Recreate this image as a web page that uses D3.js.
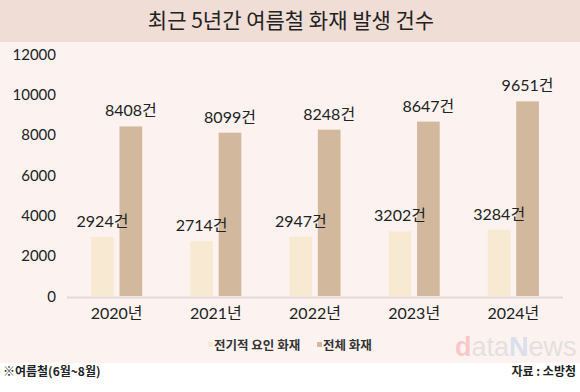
<!DOCTYPE html>
<html><head><meta charset="utf-8">
<script src="https://cdn.jsdelivr.net/npm/d3@7"></script>
<style>body{margin:0;background:#fff}svg{display:block}</style>
</head><body>
<svg id="c" width="580" height="392"></svg>
<script>
const years = ["2020년","2021년","2022년","2023년","2024년"];
const seriesNames = ["전기적 요인 화재","전체 화재"];
const electrical = [2924,2714,2947,3202,3284];
const total = [8408,8099,8248,8647,9651];
const yTicks = [0,2000,4000,6000,8000,10000,12000];
const colors = ["#f8e9d2","#d2b99e"];

const svg = d3.select("#c");
const kfont = "'Noto Sans CJK KR','Noto Sans',sans-serif";
const nfont = "Lato,'Noto Sans CJK KR',sans-serif";

svg.append("rect").attr("x",0).attr("y",0).attr("width",580).attr("height",42).attr("fill","#efddd6");
svg.append("rect").attr("x",0).attr("y",42).attr("width",580).attr("height",321).attr("fill","#fcf3f0");
svg.append("text").attr("x",291).attr("y",28).attr("text-anchor","middle")
  .attr("font-family",kfont).attr("font-size",21).attr("fill","#222").text("최근 5년간 여름철 화재 발생 건수");

// watermark (single text)
const wm = svg.append("text").attr("x",455).attr("y",356)
  .attr("font-family","'Liberation Sans',Arial,sans-serif").attr("font-size",27);
wm.append("tspan").attr("fill","#f6c9c9").attr("font-weight","bold").text("d");
wm.append("tspan").attr("fill","#e4e0df").text("ata");
wm.append("tspan").attr("fill","#d9dfeb").attr("font-weight","bold").text("N");
wm.append("tspan").attr("fill","#e4e0df").text("ews");

const y = d3.scaleLinear().domain([0,12000]).range([296,54]);
const x0 = d3.scaleBand().domain(years).range([67,563]).paddingInner(0.485).paddingOuter(0.243);
const x1 = d3.scaleBand().domain(seriesNames).range([0,x0.bandwidth()]).paddingInner(0.2);

// y axis
const ya = svg.append("g").attr("transform","translate(56,0)")
  .call(d3.axisLeft(y).tickValues(yTicks).tickSize(0).tickPadding(0).tickFormat(d3.format("d")));
ya.select(".domain").remove();
ya.selectAll("text").attr("font-family",nfont).attr("font-size",15).attr("fill","#222").attr("dy","0.35em");

// baseline
svg.append("line").attr("x1",67).attr("x2",563).attr("y1",297.5).attr("y2",297.5)
  .attr("stroke","#e0dbd8").attr("stroke-width",2);

const data = years.map((yr,i)=>({year:yr, vals:[electrical[i],total[i]]}));
const g = svg.selectAll("g.grp").data(data).join("g").attr("class","grp")
  .attr("transform",d=>`translate(${x0(d.year)},0)`);
g.selectAll("rect").data(d=>d.vals.map((v,j)=>({k:seriesNames[j],v,j}))).join("rect")
  .attr("x",d=>x1(d.k)).attr("width",x1.bandwidth())
  .attr("y",d=>y(d.v)).attr("height",d=>296-y(d.v)).attr("fill",d=>colors[d.j]);
g.selectAll("text").data(d=>d.vals.map((v,j)=>({k:seriesNames[j],v,j}))).join("text")
  .attr("x",d=>x1(d.k)+x1.bandwidth()/2).attr("y",d=>y(d.v)-10).attr("text-anchor","middle")
  .attr("font-family",nfont).attr("font-size",16).attr("fill","#222").text(d=>d.v+"건");

// x axis
const xa = svg.append("g").attr("transform","translate(0,303)")
  .call(d3.axisBottom(x0).tickSize(0).tickPadding(0));
xa.select(".domain").remove();
xa.selectAll("text").attr("font-family",nfont).attr("font-size",16).attr("fill","#222").attr("dy","1.0em");

// legend
const legX = [208,317];
seriesNames.forEach((s,i)=>{
  svg.append("rect").attr("x",legX[i]).attr("y",342).attr("width",5).attr("height",5).attr("fill",colors[i]);
  svg.append("text").attr("x",legX[i]+6).attr("y",350).attr("font-family",kfont).attr("font-weight","bold")
    .attr("font-size",12.5).attr("fill","#333").text(s);
});

svg.append("text").attr("x",3).attr("y",376).attr("font-family",kfont).attr("font-weight","bold")
  .attr("font-size",12).attr("fill","#222").text("※여름철(6월~8월)");
svg.append("text").attr("x",576).attr("y",376).attr("text-anchor","end").attr("font-family",kfont).attr("font-weight","bold")
  .attr("font-size",12).attr("fill","#222").text("자료 : 소방청");
</script>
</body></html>
